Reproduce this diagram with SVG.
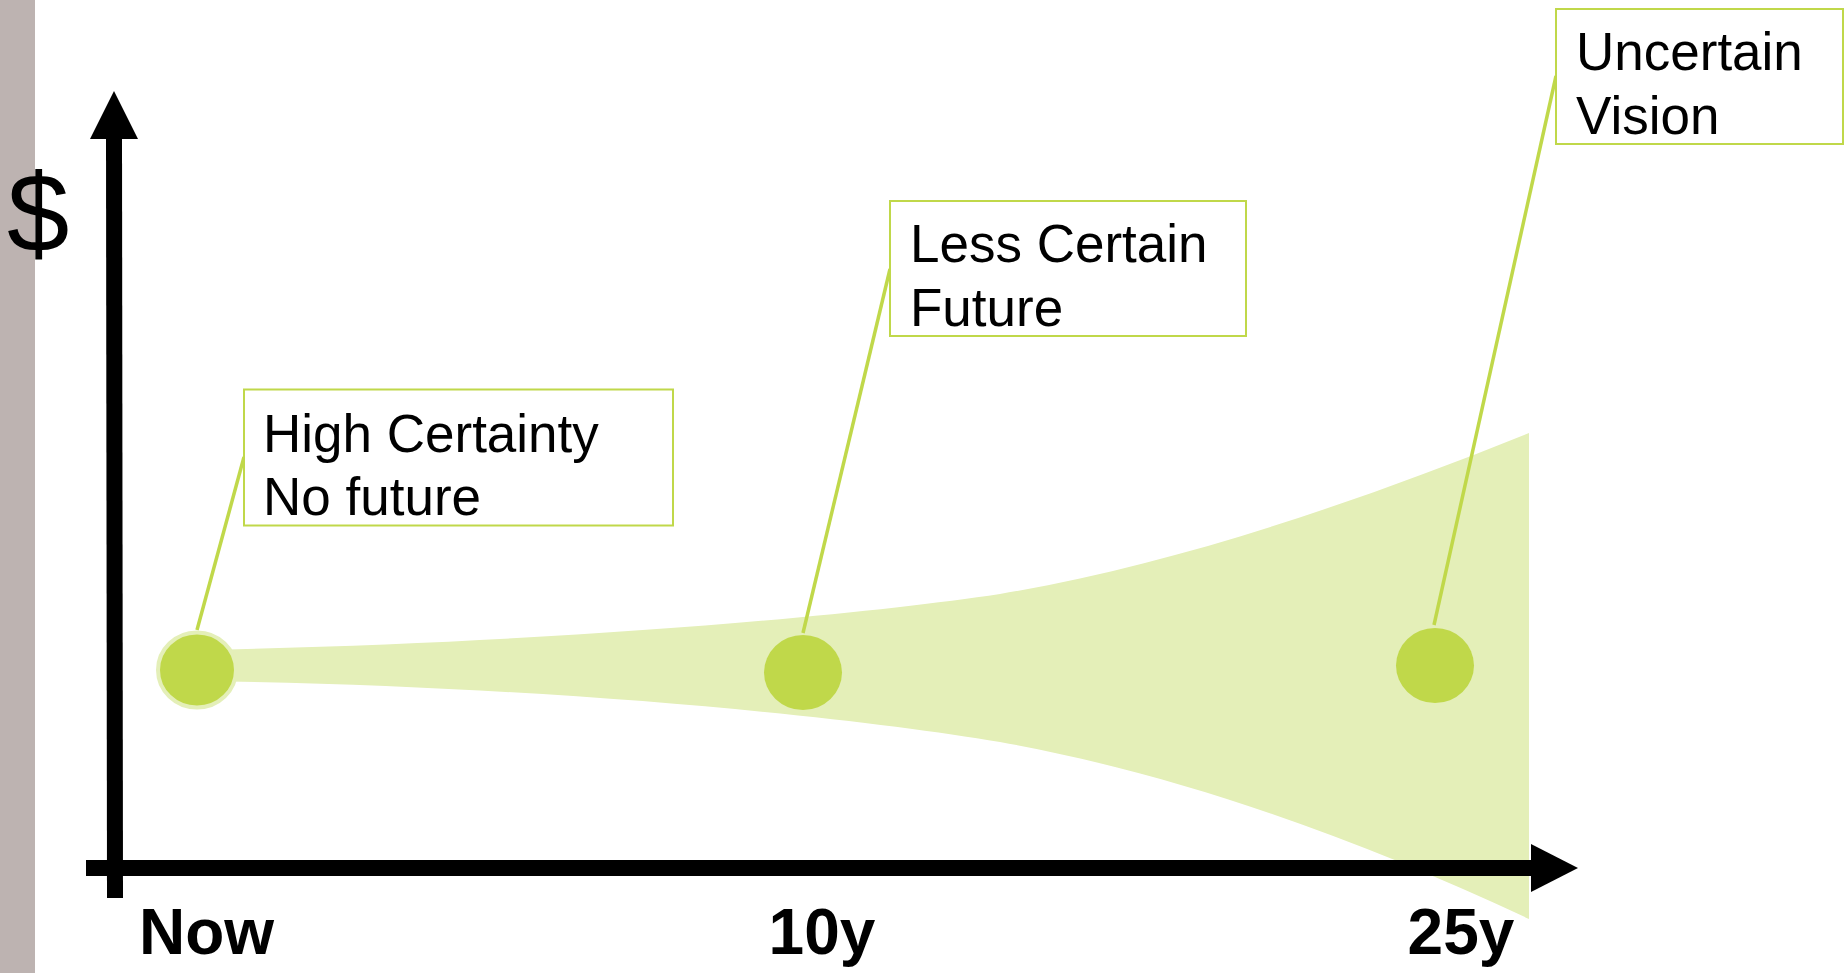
<svg xmlns="http://www.w3.org/2000/svg" width="1845" height="973" viewBox="0 0 1845 973">
  <style>
    .box { fill: #ffffff; stroke: #c0d84a; stroke-width: 2; }
    .lbl { font-family: "Liberation Sans", Arial, sans-serif; font-size: 53px; fill: #000000; }
    .tick { font-family: "Liberation Sans", Arial, sans-serif; font-size: 64px; font-weight: bold; fill: #000000; text-anchor: middle; }
    .dot { fill: #c0d84a; }
    .conn { stroke: #c0d84a; stroke-width: 3.5; fill: none; }
    .axis { stroke: #000000; stroke-width: 16; fill: none; }
  </style>
  <rect id="sidebar" x="0" y="0" width="35" height="973" fill="#bdb3b1"/>
  <g id="fan">
    <path d="M200,650 C550,643 850,616.5 1000,594 C1176,564 1352,504 1529,433 L1529,919 C1352,835.8 1176,773.7 1000,742 C850,716.5 550,686 200,681 Z" fill="#e4efb8"/>
  </g>
  <g id="axes">
    <line class="axis" x1="114" y1="136" x2="115" y2="898"/>
    <polygon points="114,91 138,139 90,139" fill="#000000"/>
    <line class="axis" x1="86" y1="868" x2="1533" y2="868"/>
    <polygon points="1531,844 1578,868 1531,892" fill="#000000"/>
    <text x="7" y="252" font-family="Liberation Sans, Arial, sans-serif" font-size="112" fill="#000000">$</text>
  </g>
  <g id="connectors">
    <line class="conn" x1="197" y1="630" x2="244" y2="457"/>
    <line class="conn" x1="803" y1="633" x2="890" y2="269"/>
    <line class="conn" x1="1434" y1="625" x2="1556" y2="76"/>
  </g>
  <g id="dot-now">
    <ellipse class="dot" cx="197" cy="670" rx="39" ry="37.5" stroke="#e4efb8" stroke-width="4"/>
  </g>
  <g id="dot-10y">
    <ellipse class="dot" cx="803" cy="672.5" rx="39" ry="37.5"/>
  </g>
  <g id="dot-25y">
    <ellipse class="dot" cx="1435" cy="665.5" rx="39" ry="37.5"/>
  </g>
  <g id="box-high">
    <rect class="box" x="244" y="389.5" width="429" height="136"/>
    <text class="lbl" x="263" y="452">High Certainty</text>
    <text class="lbl" x="263" y="515">No future</text>
  </g>
  <g id="box-less">
    <rect class="box" x="890" y="201" width="356" height="135"/>
    <text class="lbl" x="910" y="262">Less Certain</text>
    <text class="lbl" x="910" y="326">Future</text>
  </g>
  <g id="box-uncertain">
    <rect class="box" x="1556" y="9" width="287" height="135"/>
    <text class="lbl" x="1576" y="70">Uncertain</text>
    <text class="lbl" x="1576" y="133.5">Vision</text>
  </g>
  <g id="ticks">
    <text class="tick" x="206.5" y="954">Now</text>
    <text class="tick" x="822" y="954">10y</text>
    <text class="tick" x="1461" y="954">25y</text>
  </g>
</svg>
